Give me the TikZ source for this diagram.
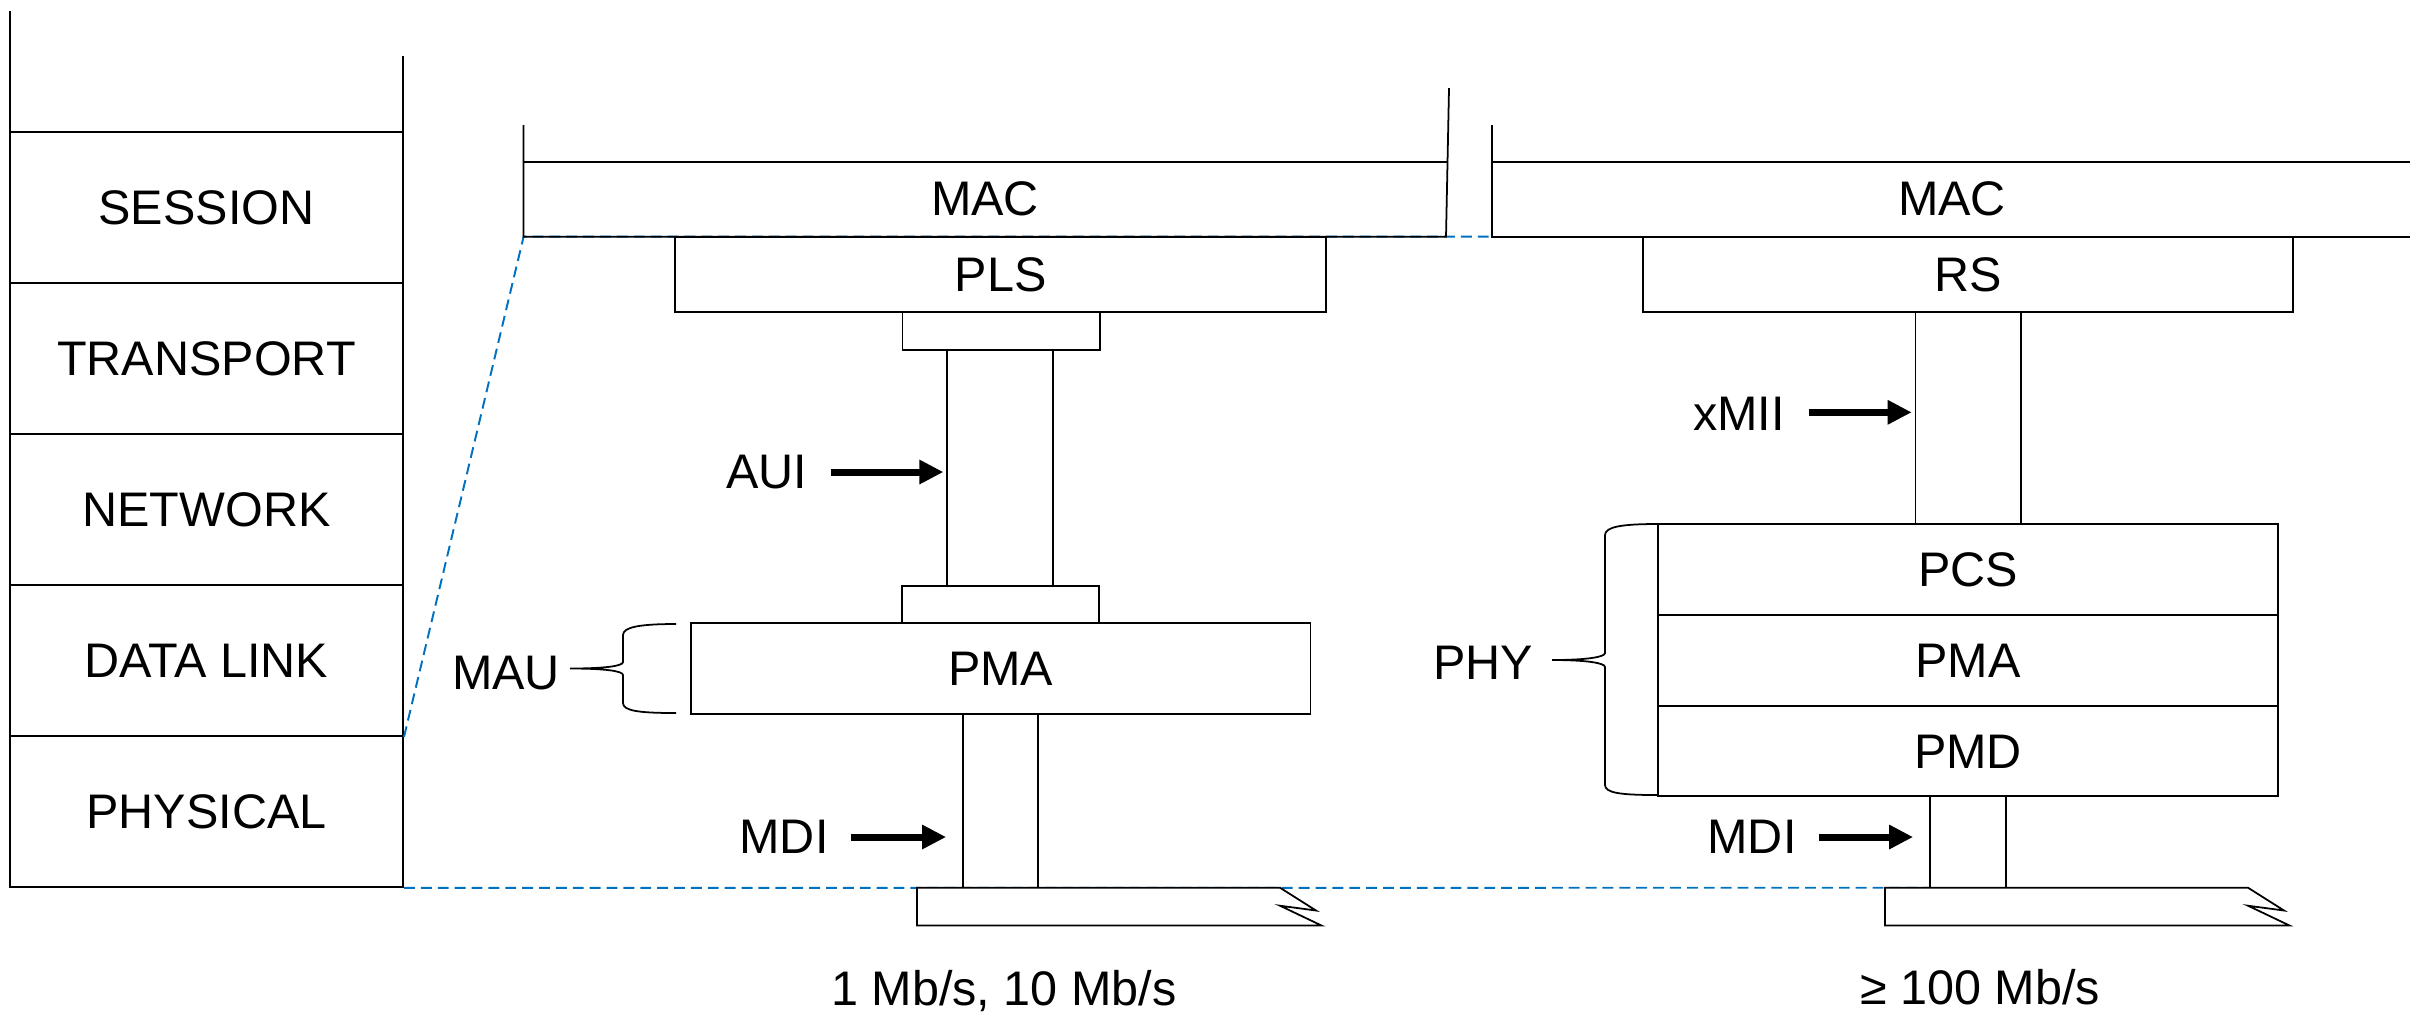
\documentclass[tikz,border=0pt]{standalone}
\usepackage{fontspec}
\setmainfont{Liberation Sans}
\usetikzlibrary{arrows.meta}
\definecolor{dashblue}{RGB}{0,112,192}
\newcommand\labfont{\fontsize{13.8pt}{16pt}\selectfont}
\begin{document}
\begin{tikzpicture}[x=0.01cm, y=-0.01cm,
  ln/.style={line width=0.5pt, line join=miter},
  box/.style={draw, line width=0.5pt, inner sep=0pt, font=\labfont},
  lab/.style={inner sep=0pt, font=\labfont},
  bluedash/.style={draw=dashblue, line width=0.55pt, dash pattern=on 3.1pt off 1.7pt},
  blockarrow/.style={line width=2pt, -{Triangle[length=0.24cm, width=0.23cm]}},
  bracepath/.style={line width=0.5pt}]
\useasboundingbox (0,0) rectangle (2410,1011);

% ---- OSI stack ----
\node[box, minimum width=3.93cm, minimum height=1.51cm] (session)   at (206.5,207.5) {SESSION};
\node[box, minimum width=3.93cm, minimum height=1.51cm] (transport) at (206.5,358.5) {TRANSPORT};
\node[box, minimum width=3.93cm, minimum height=1.51cm] (network)   at (206.5,509.5) {NETWORK};
\node[box, minimum width=3.93cm, minimum height=1.51cm] (datalink)  at (206.5,660.5) {DATA LINK};
\node[box, minimum width=3.93cm, minimum height=1.51cm] (physical)  at (206.5,811.5) {PHYSICAL};
\coordinate (stackTL) at (10,11);
\coordinate (stackTR) at (403,56);
\draw[ln] (stackTL) -- (10,132);
\draw[ln] (stackTR) -- (403,132);

% ---- blue dashed projection lines (under) ----
\coordinate (macLbl) at (523.6,236.7);
\coordinate (macRbl) at (1492,236.7);
\coordinate (mdiRfoot) at (1930,887.7);
\draw[bluedash] (datalink.south east) -- (macLbl) -- (macRbl);
\draw[bluedash] (physical.south east) -- (mdiRfoot);

% ---- left column: 1 Mb/s, 10 Mb/s ----
\draw[ln] (523.6,125) -- (macLbl) -- (1446,236.7) -- (1449,88);
\draw[ln] (523.6,161.7) -- (1447.5,161.7);
\node[lab] (macL) at (985,199) {MAC};

\node[box, minimum width=6.505cm, minimum height=0.753cm] (pls) at (1000.6,274.6) {PLS};
\node[box, minimum width=1.971cm, minimum height=0.377cm] (plsconn) at (1001,331.2) {};
\node[box, minimum width=1.06cm, minimum height=2.357cm] (auicol) at (1000.3,467.8) {};
\node[box, minimum width=1.966cm, minimum height=0.376cm] (pmaconn) at (1000.7,604.5) {};
\node[box, minimum width=6.194cm, minimum height=0.91cm] (pmaL) at (1000.6,668.8) {PMA};
\node[box, minimum width=0.75cm, minimum height=1.732cm] (mdiLcol) at (1000.5,801) {};

\draw[ln, fill=white] (917,887.7) -- (1280,887.7) -- (1316,910.5) -- (1280,905.7) -- (1321.5,925.5) -- (917,925.5) -- cycle;

\node[lab] (aui) at (767,472) {AUI};
\draw[blockarrow] ([xshift=0.23cm]aui.east) -- ([xshift=-0.03cm]aui.east -| auicol.west);

\node[lab] (mau) at (506,673) {MAU};
\draw[bracepath] (676,624) .. controls (640,624) and (623,627) .. (623,635) -- (623,662)
  .. controls (623,666) and (605,668.5) .. (570,668.5)
  .. controls (605,668.5) and (623,671) .. (623,675) -- (623,703)
  .. controls (623,711) and (640,713) .. (676,713);

\node[lab] (mdiL) at (784,837) {MDI};
\draw[blockarrow] ([xshift=0.22cm]mdiL.east) -- ([xshift=-0.16cm]mdiL.east -| mdiLcol.west);

\node[lab, anchor=base] (speedA) at (1004,1005) {1 Mb/s, 10 Mb/s};

% ---- right column: >= 100 Mb/s ----
\draw[ln] (1492,125) -- (macRbl) -- (2410,236.7);
\draw[ln] (1492,161.7) -- (2410,161.7);
\node[lab] (macR) at (1952,199) {MAC};

\node[box, minimum width=6.5cm, minimum height=0.753cm] (rs) at (1967.8,274.6) {RS};
\node[box, minimum width=1.053cm, minimum height=2.12cm] (xmiicol) at (1968.2,418.3) {};
\node[box, minimum width=6.193cm, minimum height=0.91cm] (pcs) at (1968,569.8) {PCS};
\node[box, minimum width=6.193cm, minimum height=0.91cm] (pmaR) at (1968,660.8) {PMA};
\node[box, minimum width=6.193cm, minimum height=0.90cm] (pmd) at (1968,751.3) {PMD};
\node[box, minimum width=0.76cm, minimum height=0.914cm] (mdiRcol) at (1968,842) {};

\draw[ln, fill=white] (1885,887.7) -- (2248,887.7) -- (2284,910.5) -- (2248,905.7) -- (2289.5,925.5) -- (1885,925.5) -- cycle;

\node[lab] (xmii) at (1739,414) {xMII};
\draw[blockarrow] ([xshift=0.23cm]xmii.east |- 0,412.3) -- ([xshift=-0.03cm]xmiicol.west |- 0,412.3);

\node[lab] (phy) at (1483,663) {PHY};
\draw[bracepath] (1657,524) .. controls (1621,524) and (1605,527) .. (1605,535) -- (1605,653)
  .. controls (1605,657) and (1587,660) .. (1552,660)
  .. controls (1587,660) and (1605,663) .. (1605,667) -- (1605,785)
  .. controls (1605,793) and (1621,795) .. (1657,795);

\node[lab] (mdiR) at (1752,837) {MDI};
\draw[blockarrow] ([xshift=0.22cm]mdiR.east) -- ([xshift=-0.16cm]mdiR.east -| mdiRcol.west);

\node[lab, anchor=base] (speedB) at (1980,1004) {≥ 100 Mb/s};
\end{tikzpicture}
\end{document}
